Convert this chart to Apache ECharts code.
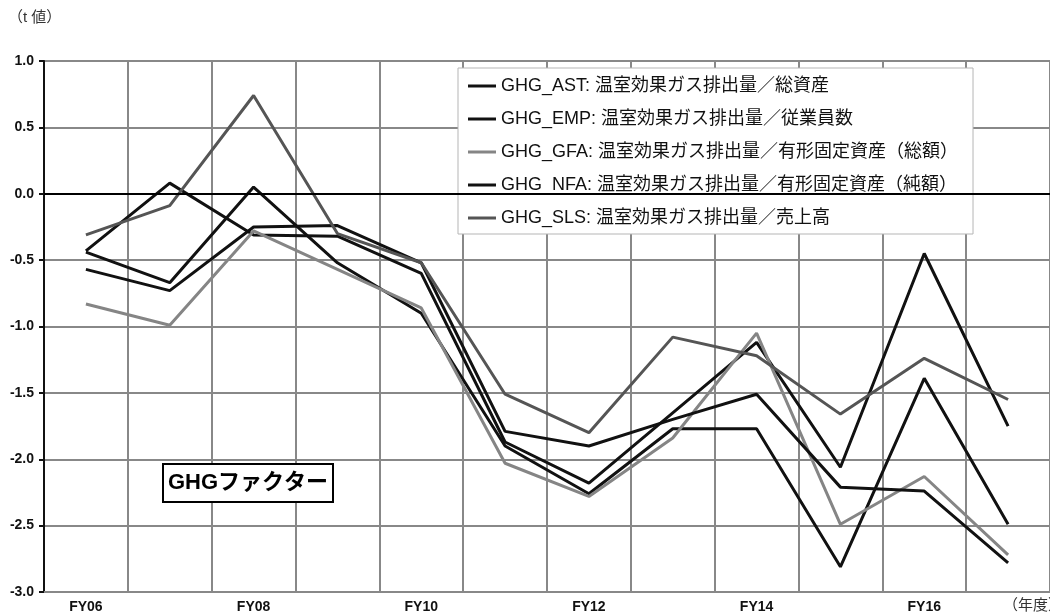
<!DOCTYPE html>
<html lang="ja">
<head>
    <meta charset="UTF-8">
    <title>GHGファクター</title>
    <script src="https://cdn.jsdelivr.net/npm/echarts@6/dist/echarts.min.js"></script>
    <style>
        html, body { margin: 0; padding: 0; background: #fff; }
        #chart { width: 1050px; height: 615px; }
    </style>
</head>
<body>
<div id="chart"></div>
<script type="text/javascript">
	// 年度
	var years = ['FY06', 'FY07', 'FY08', 'FY09', 'FY10', 'FY11', 'FY12', 'FY13', 'FY14', 'FY15', 'FY16', 'FY17'];
	// t値
	var ghgAst = [-0.43, 0.08, -0.31, -0.32, -0.60, -1.87, -2.18, -1.65, -1.12, -2.06, -0.45, -1.75];
	var ghgEmp = [-0.44, -0.67, 0.05, -0.52, -0.90, -1.90, -2.26, -1.77, -1.77, -2.81, -1.39, -2.49];
	var ghgGfa = [-0.83, -0.99, -0.28, -0.57, -0.86, -2.03, -2.28, -1.84, -1.05, -2.49, -2.13, -2.72];
	var ghgNfa = [-0.57, -0.73, -0.25, -0.24, -0.52, -1.79, -1.90, -1.70, -1.51, -2.21, -2.24, -2.78];
	var ghgSls = [-0.31, -0.09, 0.74, -0.30, -0.52, -1.51, -1.80, -1.08, -1.22, -1.66, -1.24, -1.55];

	var names = [
		'GHG_AST: 温室効果ガス排出量／総資産',
		'GHG_EMP: 温室効果ガス排出量／従業員数',
		'GHG_GFA: 温室効果ガス排出量／有形固定資産（総額）',
		'GHG_NFA: 温室効果ガス排出量／有形固定資産（純額）',
		'GHG_SLS: 温室効果ガス排出量／売上高'
	];
	var values = [ghgAst, ghgEmp, ghgGfa, ghgNfa, ghgSls];
	var colors = ['#111111', '#111111', '#858585', '#111111', '#555555'];

	var font = '"Liberation Sans", Arial, "Noto Sans CJK JP", sans-serif';

	var chart = echarts.init(document.getElementById('chart'));

	var series = [];
	for (var i = 0; i < names.length; i++) {
		series.push({
			name: names[i],
			type: 'line',
			data: values[i],
			symbol: 'none',
			lineStyle: { color: colors[i], width: 3 },
			itemStyle: { color: colors[i] },
			z: 3
		});
	}
	// 0のライン
	series[0].markLine = {
		silent: true,
		symbol: 'none',
		label: { show: false },
		lineStyle: { color: '#000', width: 2, type: 'solid' },
		data: [{ yAxis: 0 }]
	};

	var option = {
		animation: false,
		backgroundColor: '#fff',
		textStyle: { fontFamily: font },
		title: {
			text: 'GHGファクター',
			left: 163,
			top: 464,
			padding: [8, 5],
			borderColor: '#000',
			borderWidth: 2,
			backgroundColor: '#fff',
			textStyle: { fontFamily: font, fontSize: 22, fontWeight: 'bold', color: '#000' }
		},
		legend: {
			orient: 'vertical',
			left: 458,
			top: 68,
			padding: [8, 15, 6, 10],
			itemGap: 13,
			itemWidth: 28,
			itemHeight: 3,
			icon: 'rect',
			backgroundColor: '#fff',
			borderColor: '#b5b5b5',
			borderWidth: 1,
			borderRadius: 0,
			textStyle: { fontFamily: font, fontSize: 18, lineHeight: 20, color: '#111' },
			data: names
		},
		grid: {
			left: 44,
			top: 61,
			right: -5,
			bottom: 23
		},
		xAxis: {
			type: 'category',
			data: years,
			boundaryGap: true,
			axisLine: { onZero: false, lineStyle: { color: '#888', width: 2 } },
			axisTick: { show: false, interval: 0 },
			axisLabel: {
				interval: 1,
				margin: 8,
				fontSize: 14,
				fontWeight: 'bold',
				color: '#111',
				fontFamily: font
			},
			splitLine: { show: true, interval: 0, lineStyle: { color: '#888', width: 2 } }
		},
		yAxis: {
			type: 'value',
			min: -3,
			max: 1,
			interval: 0.5,
			axisLine: { show: true, lineStyle: { color: '#111', width: 2 } },
			axisTick: { show: true, length: 5, lineStyle: { color: '#111', width: 2 } },
			axisLabel: {
				margin: 10,
				fontSize: 14,
				fontWeight: 'bold',
				color: '#111',
				fontFamily: font,
				formatter: function (v) { return v.toFixed(1); }
			},
			splitLine: { show: true, lineStyle: { color: '#888', width: 2 } }
		},
		graphic: [
			{
				type: 'text',
				left: 8,
				top: 10,
				style: { text: '（t 値）', fontSize: 15, fontFamily: font, fill: '#333' }
			},
			{
				type: 'text',
				left: 1003,
				top: 598,
				style: { text: '（年度）', fontSize: 15, fontFamily: font, fill: '#333' }
			}
		],
		series: series
	};
	chart.setOption(option);
</script>
</body>
</html>
